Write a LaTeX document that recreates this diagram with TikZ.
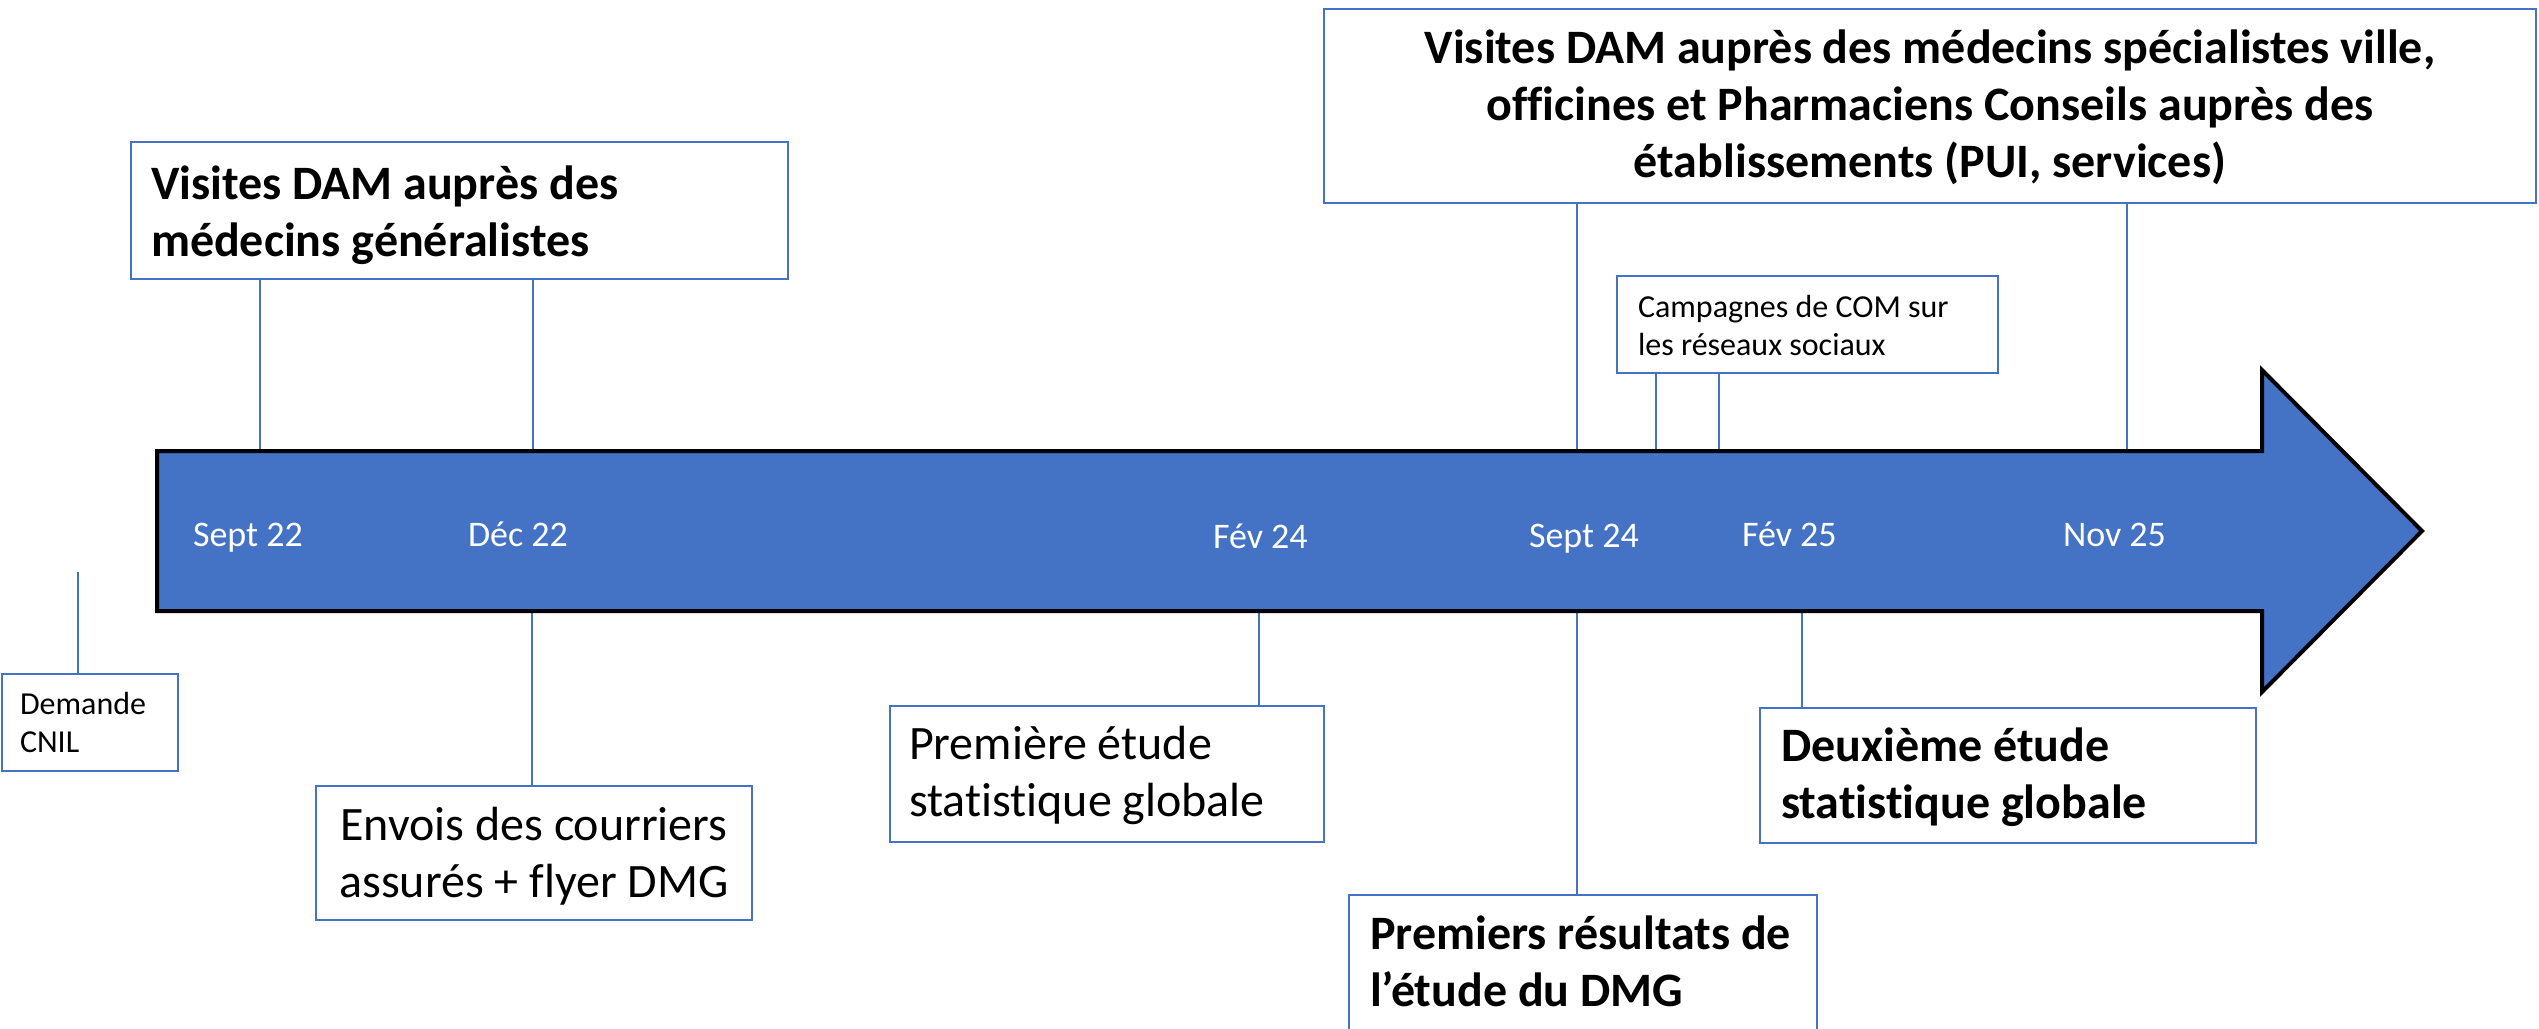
\documentclass[tikz,border=0pt]{standalone}
\usepackage{fontspec}
\setmainfont{Carlito}[Ligatures=NoCommon]
\definecolor{obl}{HTML}{4472C4}
\newcommand\mylines[2]{\begin{tabular}[t]{@{}#1@{}}#2\end{tabular}}
\begin{document}
\begin{tikzpicture}[x=1pt,y=-1pt,
  box/.style={draw=obl, line width=2pt, inner sep=0pt, outer sep=0pt, fill=white},
  conn/.style={draw=obl, line width=1.6pt},
  bigtxt/.style={font=\fontsize{48}{57}\selectfont, inner sep=0pt, outer sep=0pt, text=black},
  bigbold/.style={font=\fontsize{48}{57}\selectfont\bfseries, inner sep=0pt, outer sep=0pt, text=black},
  smalltxt/.style={font=\fontsize{32}{38}\selectfont, inner sep=0pt, outer sep=0pt, text=black},
  datetxt/.style={font=\fontsize{36}{43}\selectfont, text=white, anchor=base west, inner sep=0pt, outer sep=0pt},
  timeline/.style={fill=obl, draw=black, line width=4pt, line join=miter}]
\useasboundingbox (0,0) rectangle (2539,1028);
\clip (0,0) rectangle (2539,1028);
\fill[white] (0,0) rectangle (2539,1028);

% shaft attachment coordinates
\coordinate (a1) at (260,451);
\coordinate (a2) at (533,451);
\coordinate (a3) at (1577,451);
\coordinate (a4) at (2127,451);
\coordinate (a5) at (1656,451);
\coordinate (a6) at (1719,451);
\coordinate (b1) at (532,611);
\coordinate (b2) at (1259,611);
\coordinate (b3) at (1577,611);
\coordinate (b4) at (1802,611);
\coordinate (cnilend) at (78,572);

% boxes
\node[box, minimum width=657, minimum height=137] (gen) at (459.5,210.5) {};
\node[box, minimum width=1212, minimum height=194] (top) at (1930,106) {};
\node[box, minimum width=381, minimum height=97] (com) at (1807.5,324.5) {};
\node[box, minimum width=176, minimum height=97] (cnil) at (90,722.5) {};
\node[box, minimum width=436, minimum height=134] (envois) at (534,853) {};
\node[box, minimum width=434, minimum height=136] (prem) at (1107,774) {};
\node[box, minimum width=468, minimum height=155] (res) at (1583,972.5) {};
\node[box, minimum width=496, minimum height=135] (deux) at (2008,775.5) {};

% connectors
\draw[conn] (gen.south -| a1) -- (a1);
\draw[conn] (gen.south -| a2) -- (a2);
\draw[conn] (top.south -| a3) -- (a3);
\draw[conn] (top.south -| a4) -- (a4);
\draw[conn] (com.south -| a5) -- (a5);
\draw[conn] (com.south -| a6) -- (a6);
\draw[conn] (b1) -- (envois.north -| b1);
\draw[conn] (b2) -- (prem.north -| b2);
\draw[conn] (b3) -- (res.north -| b3);
\draw[conn] (b4) -- (deux.north -| b4);
\draw[conn] (cnilend) -- (cnil.north -| cnilend);

% timeline arrow
\draw[timeline] (157,451) -- (2262,451) -- (2262,370) -- (2422,531) -- (2262,692) -- (2262,611) -- (157,611) -- cycle;

% dates
\node[datetxt] (d1) at (193,546) {Sept 22};
\node[datetxt] (d2) at (468,546) {Déc 22};
\node[datetxt] (d3) at (1213,548) {Fév 24};
\node[datetxt] (d4) at (1529,547) {Sept 24};
\node[datetxt] (d5) at (1742,546) {Fév 25};
\node[datetxt] (d6) at (2063,546) {Nov 25};

% texts
\node[bigbold, anchor=base west] (gentxt) at (151,199) {\mylines{l}{Visites DAM auprès des\\médecins généralistes}};
\node[bigbold, anchor=base] (toptxt) at (1930,63) {\mylines{c}{Visites DAM auprès des médecins spécialistes ville,\\officines et Pharmaciens Conseils auprès des\\établissements (PUI, services)}};
\node[smalltxt, anchor=base west] (comtxt) at (1638,317) {\mylines{l}{Campagnes de COM sur\\les réseaux sociaux}};
\node[smalltxt, anchor=base west] (cniltxt) at (20,714) {\mylines{l}{Demande\\CNIL}};
\node[bigtxt, anchor=base] (envoistxt) at (534,840) {\mylines{c}{Envois des courriers\\assurés + flyer DMG}};
\node[bigtxt, anchor=base west] (premtxt) at (909,759) {\mylines{l}{Première étude\\statistique globale}};
\node[bigbold, anchor=base west] (restxt) at (1370,949) {\mylines{l}{Premiers résultats de\\l’étude du DMG}};
\node[bigbold, anchor=base west] (deuxtxt) at (1781,761) {\mylines{l}{Deuxième étude\\statistique globale}};
\end{tikzpicture}
\end{document}
